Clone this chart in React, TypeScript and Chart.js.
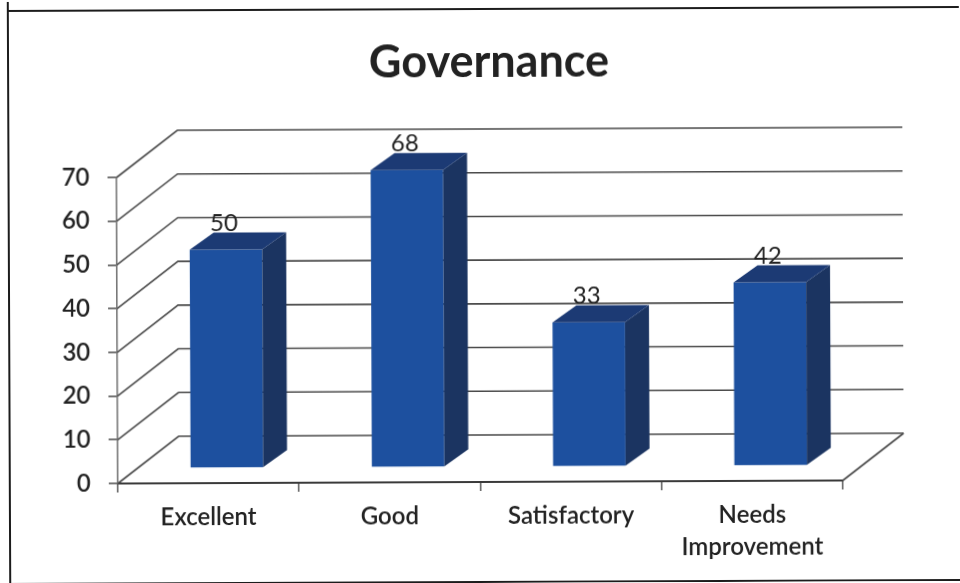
import React, { useEffect, useRef } from "react";
import { Chart, registerables } from "chart.js";

Chart.register(...registerables);

const categories: (string | string[])[] = ["Excellent", "Good", "Satisfactory", ["Needs", "Improvement"]];
const ratings = [50, 68, 33, 42];
const yTicksMax = 70;
const yTickStep = 10;
const chartTitle = "Governance";

const FONT = "Lato, 'Noto Sans', sans-serif";
const WALL = { dx: 61, dy: -47 };
const BAR_SHIFT = { dx: 18.5, dy: -15 };
const BAR_DEPTH = { dx: 24, dy: -17 };
const GRID = "#4a4a4a";

const threeD = {
  id: "threeD",
  beforeDraw(chart: any) {
    const { ctx } = chart;
    ctx.save();
    ctx.strokeStyle = "#1c1c1c";
    ctx.lineWidth = 2;
    ctx.beginPath();
    ctx.moveTo(9, 0);
    ctx.lineTo(9, 583);
    ctx.moveTo(9, 9);
    ctx.lineTo(960, 9);
    ctx.moveTo(9, 582);
    ctx.lineTo(960, 582);
    ctx.stroke();
    ctx.restore();
  },
  beforeDatasetsDraw(chart: any) {
    const { ctx, scales } = chart;
    const y = scales.y;
    const x = scales.x;
    ctx.save();
    ctx.strokeStyle = GRID;
    ctx.lineWidth = 1.6;
    y.ticks.forEach((t: any) => {
      const py = y.getPixelForValue(t.value);
      ctx.beginPath();
      ctx.moveTo(x.left, py);
      ctx.lineTo(x.left + WALL.dx, py + WALL.dy);
      ctx.lineTo(x.right + WALL.dx, py + WALL.dy);
      ctx.stroke();
    });
    const p0 = y.getPixelForValue(0);
    ctx.beginPath();
    ctx.moveTo(x.right, p0);
    ctx.lineTo(x.right + WALL.dx, p0 + WALL.dy);
    ctx.stroke();
    ctx.restore();
    ctx.save();
    ctx.translate(BAR_SHIFT.dx, BAR_SHIFT.dy);
  },
  afterDatasetsDraw(chart: any) {
    const { ctx } = chart;
    const meta = chart.getDatasetMeta(0);
    meta.data.forEach((bar: any, i: number) => {
      const l = bar.x - bar.width / 2;
      const r = bar.x + bar.width / 2;
      ctx.fillStyle = "#1b3461";
      ctx.beginPath();
      ctx.moveTo(r, bar.y);
      ctx.lineTo(r + BAR_DEPTH.dx, bar.y + BAR_DEPTH.dy);
      ctx.lineTo(r + BAR_DEPTH.dx, bar.base + BAR_DEPTH.dy);
      ctx.lineTo(r, bar.base);
      ctx.closePath();
      ctx.fill();
      ctx.fillStyle = "#1c3a74";
      ctx.beginPath();
      ctx.moveTo(l, bar.y);
      ctx.lineTo(l + BAR_DEPTH.dx, bar.y + BAR_DEPTH.dy);
      ctx.lineTo(r + BAR_DEPTH.dx, bar.y + BAR_DEPTH.dy);
      ctx.lineTo(r, bar.y);
      ctx.closePath();
      ctx.fill();
      ctx.fillStyle = "#222";
      ctx.font = `24px ${FONT}`;
      ctx.textAlign = "center";
      ctx.textBaseline = "middle";
      ctx.fillText(String(ratings[i]), bar.x - 2, bar.y - 26);
    });
    ctx.restore();
  },
};

export default function App() {
  const ref = useRef<HTMLCanvasElement>(null);
  useEffect(() => {
    document.body.style.margin = "0";
    document.body.style.background = "#fff";
    const chart = new Chart(ref.current as HTMLCanvasElement, {
      type: "bar",
      data: {
        labels: categories as any,
        datasets: [
          {
            label: chartTitle,
            data: ratings,
            backgroundColor: "#1d509f",
            borderWidth: 0,
            barPercentage: 0.4,
            categoryPercentage: 1,
            clip: false as any,
          },
        ],
      },
      options: {
        animation: false,
        responsive: false,
        devicePixelRatio: 1,
        layout: { padding: { left: 20, right: 0, top: 0, bottom: 0 } },
        plugins: {
          legend: { display: false },
          tooltip: { enabled: false },
          title: {
            display: true,
            text: chartTitle,
            color: "#222",
            font: { family: FONT, size: 45, weight: "bold", lineHeight: 1.2 },
            padding: { top: 35, bottom: 87 },
          },
        },
        scales: {
          x: {
            grid: { drawOnChartArea: false, drawTicks: true, tickLength: 9, color: "#666", lineWidth: 1.6, offset: true } as any,
            border: { display: true, color: "#3a3a3a", width: 2 },
            ticks: {
              color: "#222",
              padding: 9,
              maxRotation: 0,
              autoSkip: false,
              font: { family: FONT, size: 24, weight: 600 as any, lineHeight: 1.33 },
            },
            afterFit(s: any) {
              s.height = 101;
            },
          },
          y: {
            min: 0,
            max: yTicksMax,
            grid: { drawOnChartArea: false, tickLength: 9, color: "#555", lineWidth: 1.6 },
            border: { display: true, color: "#777", width: 1.6 },
            ticks: {
              stepSize: yTickStep,
              color: "#222",
              padding: 18,
              font: { family: FONT, size: 24, weight: 600 as any },
            },
            afterFit(s: any) {
              s.width = 97;
            },
          },
          rightGap: {
            position: "right",
            display: true,
            grid: { display: false },
            border: { display: false },
            ticks: { display: false },
            afterFit(s: any) {
              s.width = 118;
            },
          },
        },
      } as any,
      plugins: [threeD],
    });
    return () => chart.destroy();
  }, []);
  return (
    <div style={{ position: "fixed", left: 0, top: 0, width: 960, height: 583, overflow: "hidden" }}>
      <canvas
        ref={ref}
        width={960}
        height={583}
        style={{ display: "block", transform: "rotate(-0.24deg)", transformOrigin: "480px 290px" }}
      />
    </div>
  );
}
